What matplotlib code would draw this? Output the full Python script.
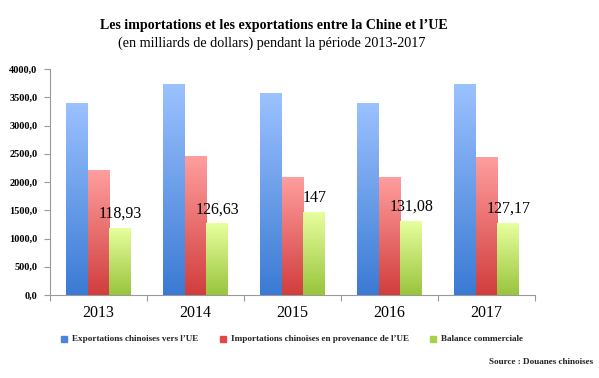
import numpy as np
import matplotlib
matplotlib.use("Agg")
import matplotlib.pyplot as plt
from matplotlib.colors import LinearSegmentedColormap
from matplotlib.patches import Rectangle

years = ["2013", "2014", "2015", "2016", "2017"]
exports = [3400, 3730, 3575, 3400, 3735]
imports = [2205, 2455, 2085, 2080, 2450]
balance = [1189.3, 1266.3, 1470, 1310.8, 1271.7]
balance_labels = ["118,93", "126,63", "147", "131,08", "127,17"]
series_names = ["Exportations chinoises vers l\u2019UE",
                "Importations chinoises en provenance de l\u2019UE",
                "Balance commerciale"]
yticks = [0, 500, 1000, 1500, 2000, 2500, 3000, 3500, 4000]

SERIF = ["Liberation Serif", "DejaVu Serif"]
plt.rcParams['font.family'] = SERIF

grads = [((0.23, 0.48, 0.83), (0.61, 0.76, 1.0)),
         ((0.82, 0.24, 0.24), (1.0, 0.62, 0.62)),
         ((0.60, 0.77, 0.24), (0.91, 1.0, 0.62))]
solid = ["#4a86dc", "#e04848", "#a8d04a"]

fig = plt.figure(figsize=(5.99, 3.78), dpi=100)
W, H = 599, 378
ax = fig.add_axes([50 / W, 1 - 295 / H, 485 / W, 226 / H])

x = np.arange(len(years))
bw = 0.224
offs = [-bw, 0, bw]
for si, vals in enumerate([exports, imports, balance]):
    cmap = LinearSegmentedColormap.from_list("g%d" % si, [grads[si][0], grads[si][1]])
    bars = ax.bar(x + offs[si], vals, width=bw, color=solid[si], linewidth=0, zorder=2)
    for b in bars:
        x0 = b.get_x(); x1 = x0 + b.get_width(); h = b.get_height()
        im = ax.imshow(np.linspace(0, 1, 256).reshape(-1, 1), cmap=cmap, origin="lower",
                       extent=(x0, x1, 0, h), aspect="auto", zorder=3)
        im.set_clip_path(b)

for i, v in enumerate(balance):
    ax.text(x[i] + offs[2], v + 110, balance_labels[i], ha="center", va="bottom",
            fontsize=11.5, color="black", zorder=5)

ax.set_xlim(-0.5, 4.5)
ax.set_ylim(0, 4000)
ax.set_yticks(yticks)
ax.set_yticklabels([("%d,0" % t) for t in yticks], fontsize=7.5, fontweight="bold")
ax.set_xticks(np.arange(-0.5, 5, 1))
ax.set_xticklabels([])
ax.tick_params(axis="x", length=4, color="#999999", direction="out")
ax.tick_params(axis="y", length=4, color="#999999", pad=5)
for i, yr in enumerate(years):
    ax.text(x[i], -0.08, yr, transform=ax.get_xaxis_transform(), ha="center",
            va="center", fontsize=11.5)
for s in ["top", "right"]:
    ax.spines[s].set_visible(False)
for s in ["left", "bottom"]:
    ax.spines[s].set_color("#999999")
    ax.spines[s].set_linewidth(0.8)

fig.text(274 / W, 1 - 25 / H, "Les importations et les exportations entre la Chine et l\u2019UE",
         ha="center", va="center", fontsize=10.1, fontweight="bold")
fig.text(272 / W, 1 - 43 / H, "(en milliards de dollars) pendant la p\u00e9riode 2013-2017",
         ha="center", va="center", fontsize=10.2)

leg_x = [61, 220, 430]
for i, name in enumerate(series_names):
    fig.patches.append(Rectangle((leg_x[i] / W, 1 - 342 / H), 6 / W, 6 / H,
                                 transform=fig.transFigure, color=solid[i]))
    fig.text((leg_x[i] + 11) / W, 1 - 339 / H, name, ha="left", va="center",
             fontsize=6.6, fontweight="bold", color="#222222")

fig.text(593 / W, 1 - 362 / H, "Source : Douanes chinoises", ha="right", va="center",
         fontsize=6.6, fontweight="bold", color="#222222")

fig.savefig("out.png", dpi=100)
